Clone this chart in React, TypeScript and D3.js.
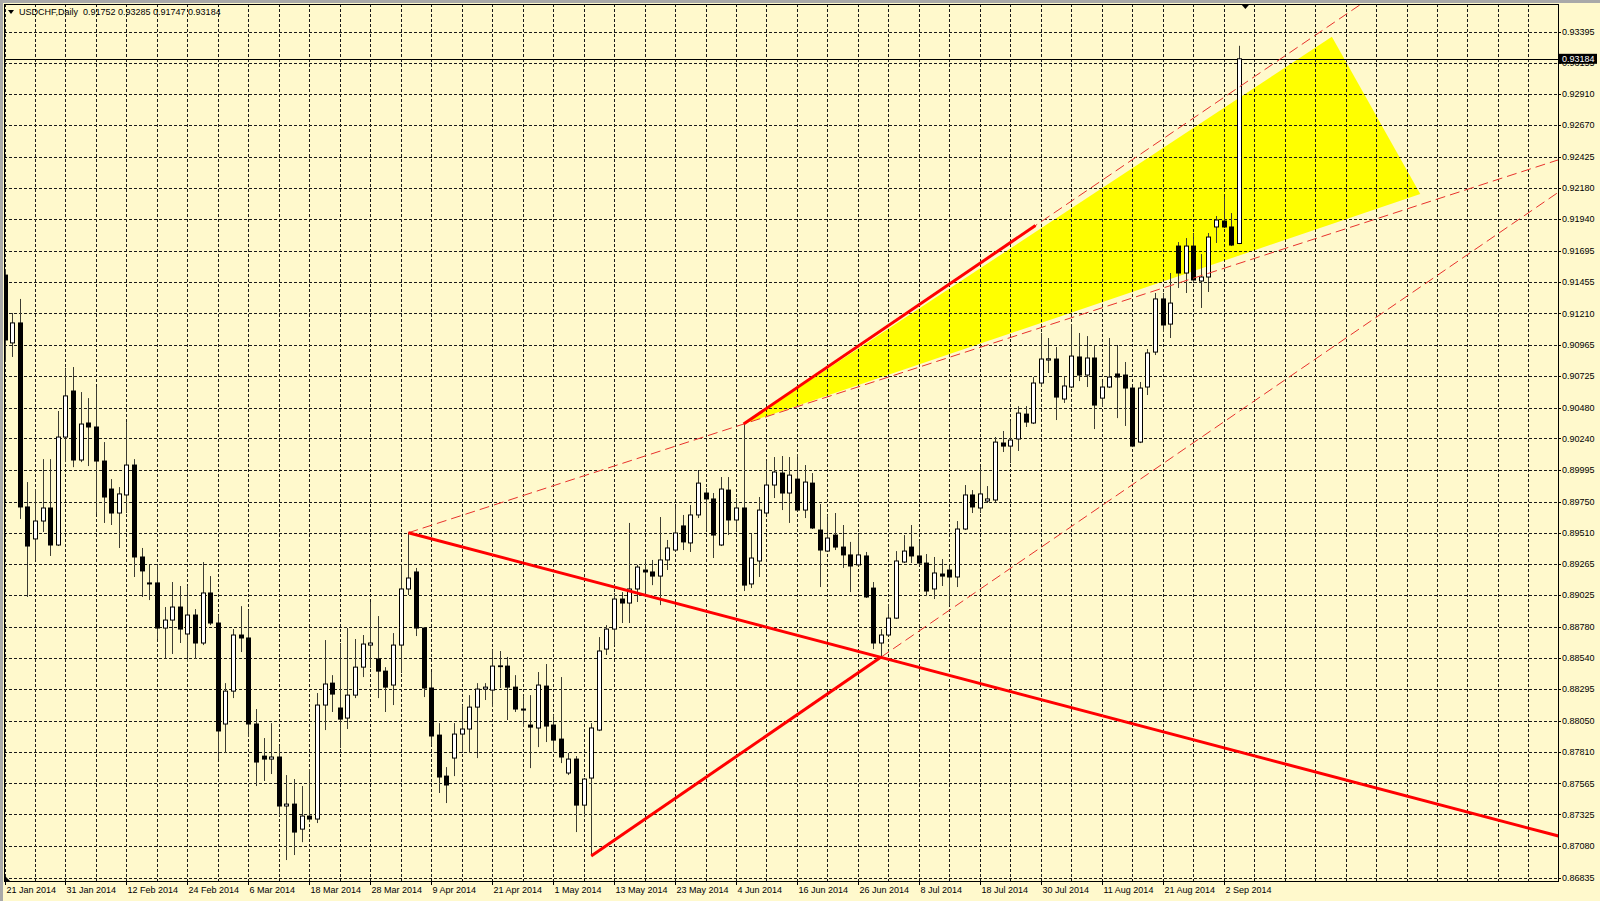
import * as d3 from "d3";

const W = 1600;
const H = 901;
const plot = { left: 4, top: 4, right: 1558, bottom: 881 };

// USDCHF daily bars, 21 Jan 2014 .. 4 Sep 2014 (bar index = trading day)
const opens = [
  0.91507, 0.90981, 0.91136, 0.89709, 0.89461, 0.896, 0.89701, 0.89414, 0.90251, 0.90608, 0.90073, 0.9036, 0.90329, 0.90065, 0.89848, 0.89662, 0.89802, 0.90034, 0.89321, 0.8912,
  0.8912, 0.8877, 0.88832, 0.88933, 0.88724, 0.88871, 0.88654, 0.89042, 0.88809, 0.88026, 0.88281, 0.88716, 0.88693, 0.88026, 0.87777, 0.87754, 0.8777, 0.8739, 0.87405, 0.87211,
  0.87312, 0.87289, 0.88173, 0.88343, 0.8815, 0.88072, 0.8825, 0.88467, 0.88638, 0.8853, 0.88436, 0.88328, 0.88638, 0.89073, 0.89205, 0.8877, 0.88305, 0.8794, 0.87622, 0.87762,
  0.87948, 0.87987, 0.88157, 0.88297, 0.88289, 0.88472, 0.88475, 0.88312, 0.88142, 0.88018, 0.87995, 0.8832, 0.88018, 0.87909, 0.87646, 0.87754, 0.87397, 0.87607, 0.87979, 0.88607,
  0.88762, 0.88995, 0.88964, 0.89073, 0.8922, 0.89205, 0.89173, 0.89298, 0.89375, 0.89562, 0.8943, 0.89647, 0.89817, 0.89771, 0.89414, 0.8984, 0.89608, 0.89701, 0.89112, 0.8929,
  0.89662, 0.89879, 0.89972, 0.89817, 0.89925, 0.89685, 0.89894, 0.8953, 0.89367, 0.89491, 0.89398, 0.89337, 0.8926, 0.89329, 0.8908, 0.88654, 0.88716, 0.88847, 0.89282, 0.89398,
  0.89329, 0.89274, 0.89073, 0.89189, 0.8922, 0.89166, 0.89538, 0.89802, 0.89701, 0.89755, 0.89763, 0.90205, 0.90181, 0.90236, 0.90429, 0.9036, 0.9067, 0.90848, 0.90856, 0.90546,
  0.90639, 0.90872, 0.90732, 0.90864, 0.90553, 0.90639, 0.9074, 0.90732, 0.90631, 0.90212, 0.90639, 0.9091, 0.91322, 0.91127, 0.91732, 0.91523, 0.91732, 0.91461, 0.91492, 0.9188,
  0.91926, 0.9188, 0.91752,
];
const highs = [
  0.91554, 0.91213, 0.91322, 0.89902, 0.89848, 0.9008, 0.9008, 0.90453, 0.90787, 0.90794, 0.906, 0.90553, 0.90639, 0.90212, 0.89925, 0.89863, 0.90367, 0.9008, 0.89391, 0.8926,
  0.89267, 0.88933, 0.89127, 0.89096, 0.89096, 0.88917, 0.89282, 0.89173, 0.88871, 0.88343, 0.88762, 0.8894, 0.88909, 0.88142, 0.87917, 0.88033, 0.87855, 0.8763, 0.87599, 0.87545,
  0.87676, 0.88266, 0.88677, 0.88405, 0.88654, 0.8877, 0.88685, 0.88716, 0.88972, 0.88863, 0.88467, 0.88731, 0.8926, 0.89509, 0.89236, 0.88778, 0.88429, 0.88033, 0.87692, 0.88033,
  0.88173, 0.8825, 0.88343, 0.88343, 0.886, 0.88592, 0.88546, 0.88405, 0.88242, 0.8825, 0.88429, 0.88491, 0.88095, 0.8839, 0.87801, 0.87777, 0.87607, 0.88033, 0.887, 0.88793,
  0.89042, 0.89049, 0.89585, 0.8926, 0.89298, 0.89298, 0.89631, 0.89453, 0.89709, 0.89647, 0.89724, 0.89995, 0.89856, 0.89817, 0.89941, 0.89941, 0.89778, 0.90352, 0.89499, 0.89786,
  0.90065, 0.90096, 0.90104, 0.90096, 0.90119, 0.90034, 0.89972, 0.89732, 0.89647, 0.89662, 0.89569, 0.89438, 0.89507, 0.8936, 0.89127, 0.88762, 0.88956, 0.89367, 0.89491, 0.89569,
  0.89445, 0.89344, 0.89321, 0.89305, 0.89243, 0.896, 0.89879, 0.8984, 0.90018, 0.89871, 0.90251, 0.90298, 0.90375, 0.90491, 0.90491, 0.90716, 0.91058, 0.91019, 0.90949, 0.90716,
  0.91127, 0.91058, 0.91034, 0.90965, 0.90678, 0.91019, 0.90965, 0.90833, 0.90639, 0.90678, 0.90934, 0.91368, 0.91368, 0.91523, 0.91763, 0.91794, 0.91833, 0.9167, 0.91833, 0.91965,
  0.92112, 0.91988, 0.93285,
];
const lows = [
  0.90833, 0.90872, 0.89616, 0.89011, 0.89298, 0.89515, 0.89329, 0.89406, 0.90057, 0.90018, 0.90057, 0.90026, 0.89654, 0.89585, 0.89569, 0.89391, 0.89662, 0.89166, 0.89011, 0.88987,
  0.88685, 0.88538, 0.88569, 0.88654, 0.88507, 0.8853, 0.88638, 0.88793, 0.87754, 0.87801, 0.88227, 0.88584, 0.87925, 0.87545, 0.87584, 0.87638, 0.87312, 0.86971, 0.8701, 0.8711,
  0.87265, 0.87258, 0.87979, 0.88119, 0.87839, 0.87987, 0.88227, 0.8839, 0.8846, 0.88227, 0.88119, 0.88173, 0.88421, 0.89026, 0.88708, 0.88235, 0.87863, 0.87491, 0.87413, 0.87622,
  0.87801, 0.87801, 0.87762, 0.88212, 0.88157, 0.88305, 0.88057, 0.88119, 0.88002, 0.87684, 0.87847, 0.87886, 0.87808, 0.87723, 0.8763, 0.87188, 0.87304, 0.87002, 0.87971, 0.88561,
  0.88638, 0.88809, 0.88809, 0.88972, 0.89011, 0.89103, 0.88948, 0.8922, 0.89367, 0.89375, 0.8936, 0.89623, 0.8953, 0.89313, 0.89406, 0.89491, 0.8953, 0.89057, 0.8908, 0.89166,
  0.89654, 0.89778, 0.89685, 0.89585, 0.89677, 0.89623, 0.89538, 0.89088, 0.8936, 0.89375, 0.89236, 0.89049, 0.89252, 0.89003, 0.88607, 0.88543, 0.88708, 0.8884, 0.89274, 0.89274,
  0.89267, 0.89018, 0.88995, 0.89096, 0.88948, 0.89088, 0.8953, 0.89662, 0.89662, 0.8974, 0.89747, 0.90135, 0.90049, 0.90143, 0.90329, 0.90352, 0.90639, 0.90748, 0.90383, 0.90515,
  0.90631, 0.90685, 0.90639, 0.90313, 0.90491, 0.90631, 0.90398, 0.90337, 0.90173, 0.90204, 0.90577, 0.90887, 0.91066, 0.91019, 0.91407, 0.91368, 0.91445, 0.91252, 0.91376, 0.91756,
  0.91872, 0.91732, 0.91747,
];
const closes = [
  0.91004, 0.91136, 0.89709, 0.89406, 0.896, 0.89701, 0.89414, 0.90251, 0.9057, 0.90073, 0.90352, 0.90329, 0.90065, 0.89786, 0.89662, 0.8981, 0.90034, 0.89321, 0.89213, 0.89112,
  0.8877, 0.88832, 0.88933, 0.88762, 0.88871, 0.88654, 0.89042, 0.88809, 0.87972, 0.88281, 0.88716, 0.88693, 0.88026, 0.87731, 0.87754, 0.8777, 0.8739, 0.87405, 0.87188, 0.87312,
  0.87289, 0.88173, 0.88336, 0.88258, 0.88064, 0.8825, 0.88467, 0.88646, 0.88654, 0.88436, 0.88312, 0.88638, 0.89073, 0.89158, 0.8877, 0.88305, 0.87933, 0.87615, 0.87553, 0.87948,
  0.87987, 0.88157, 0.88297, 0.88312, 0.88475, 0.88477, 0.88312, 0.88142, 0.88134, 0.88002, 0.88328, 0.8801, 0.87901, 0.8777, 0.87754, 0.87397, 0.87599, 0.87995, 0.88592, 0.88762,
  0.88995, 0.88964, 0.89073, 0.89243, 0.89205, 0.89173, 0.89298, 0.89391, 0.89507, 0.89438, 0.89647, 0.89894, 0.89771, 0.89491, 0.89848, 0.89608, 0.89701, 0.89103, 0.89313, 0.89685,
  0.89879, 0.8998, 0.89817, 0.89956, 0.89685, 0.89902, 0.89546, 0.89375, 0.89468, 0.89398, 0.89337, 0.89251, 0.89337, 0.89011, 0.88654, 0.88716, 0.88847, 0.8929, 0.89367, 0.89329,
  0.89274, 0.89057, 0.89197, 0.89173, 0.89166, 0.89538, 0.89802, 0.89709, 0.8981, 0.89771, 0.90212, 0.90181, 0.90228, 0.90437, 0.90367, 0.9067, 0.90856, 0.90858, 0.90561, 0.90647,
  0.90879, 0.90732, 0.90864, 0.90499, 0.90639, 0.90716, 0.90716, 0.90631, 0.90181, 0.90631, 0.90903, 0.91322, 0.9112, 0.9129, 0.91523, 0.91732, 0.91469, 0.91492, 0.91802, 0.91934,
  0.9188, 0.9174, 0.93184,
];

// axis labels
const dateLabels = [
  "21 Jan 2014", "31 Jan 2014", "12 Feb 2014", "24 Feb 2014", "6 Mar 2014", "18 Mar 2014", "28 Mar 2014",
  "9 Apr 2014", "21 Apr 2014", "1 May 2014", "13 May 2014", "23 May 2014", "4 Jun 2014", "16 Jun 2014",
  "26 Jun 2014", "8 Jul 2014", "18 Jul 2014", "30 Jul 2014", "11 Aug 2014", "21 Aug 2014", "2 Sep 2014",
];
const dateLabelStep = 8; // bars between date labels
const gridStep = 4; // bars between vertical grid lines
const priceLabels = [
  "0.93395", "0.93155", "0.92910", "0.92670", "0.92425", "0.92180", "0.91940", "0.91695", "0.91455", "0.91210",
  "0.90965", "0.90725", "0.90480", "0.90240", "0.89995", "0.89750", "0.89510", "0.89265", "0.89025", "0.88780",
  "0.88540", "0.88295", "0.88050", "0.87810", "0.87565", "0.87325", "0.87080", "0.86835",
];
const title = "USDCHF,Daily  0.91752 0.93285 0.91747 0.93184";
const lastPrice = 0.93184;

// drawn objects: [bar index, price]
const ptA: [number, number] = [53, 0.89509]; // March high
const ptB: [number, number] = [97, 0.90352]; // June high
const ptV: [number, number] = [115, 0.88543]; // June low
const ptL: [number, number] = [77, 0.87002]; // May low
const ptC: [number, number] = [135.3, 0.91891];
const triangle: [number, number][] = [ptB, [174.2, 0.93355], [185.8, 0.92136]];

export default function App() {
  const x = d3.scaleLinear().domain([0, 162]).range([4.5, 1238.9]);
  const y = d3.scaleLinear().domain([0.86835, 0.93395]).range([877.6, 31.6]);

  const px = (p: [number, number]): [number, number] => [x(p[0]), y(p[1])];
  const ray = (p1: [number, number], p2: [number, number]): [number, number][] => {
    const [x1, y1] = px(p1);
    const [x2, y2] = px(p2);
    const s = (y2 - y1) / (x2 - x1);
    const xe = 2200;
    return [[x1, y1], [xe, y1 + s * (xe - x1)]];
  };
  const line = d3.line();

  const maxGridBar = Math.floor(x.invert(plot.right));
  const gridBars = d3.range(0, maxGridBar + 1, gridStep);

  const font = "'Liberation Sans', Arial, sans-serif";
  const red = "#ff0000";

  return (
    <svg width={W} height={H} style={{ position: "absolute", left: 0, top: 0 }} fontFamily={font}>
      <defs>
        <clipPath id="plot">
          <rect x={plot.left} y={plot.top} width={plot.right - plot.left} height={plot.bottom - plot.top} />
        </clipPath>
      </defs>
      <rect width={W} height={H} fill="#fff9cc" />
      <rect width={W} height={3} fill="#a9a9a9" />
      <rect width={3} height={H} fill="#a9a9a9" />

      <g clipPath="url(#plot)">
        {/* yellow triangle */}
        <path d={line(triangle.map(px)) + "Z"} fill="#ffff00" />

        {/* grid */}
        {priceLabels.map((p) => (
          <line key={p} x1={plot.left} x2={plot.right} y1={Math.round(y(+p)) + 0.5} y2={Math.round(y(+p)) + 0.5}
            stroke="#1a1a1a" strokeDasharray="3 2" />
        ))}
        {gridBars.map((b) => (
          <line key={b} x1={Math.round(x(b)) + 0.5} x2={Math.round(x(b)) + 0.5} y1={plot.top} y2={plot.bottom}
            stroke="#1a1a1a" strokeDasharray="3 2" />
        ))}

        {/* last price line */}
        <line x1={plot.left} x2={plot.right} y1={Math.round(y(lastPrice)) + 0.5} y2={Math.round(y(lastPrice)) + 0.5} stroke="#000" />

        {/* candles */}
        {opens.map((o, i) => {
          const c = closes[i];
          const cx = Math.round(x(i)) + 0.5;
          const top = y(Math.max(o, c));
          const bot = y(Math.min(o, c));
          const up = c >= o;
          return (
            <g key={i}>
              <line x1={cx} x2={cx} y1={y(highs[i])} y2={y(lows[i])} stroke="#3c3c32" />
              {up ? (
                <rect x={cx - 2} y={top} width={4} height={Math.max(bot - top, 0.8)} fill="#fff" stroke="#000" />
              ) : (
                <rect x={cx - 2.5} y={top - 0.5} width={5} height={Math.max(bot - top, 0.5) + 1} fill="#000" />
              )}
            </g>
          );
        })}

        {/* dashed extensions */}
        <path d={line(ray(ptA, ptB)) ?? ""} stroke="#e8322c" strokeWidth={1} strokeDasharray="10 5" fill="none" />
        <path d={line(ray(ptB, ptC)) ?? ""} stroke="#e8322c" strokeWidth={1} strokeDasharray="10 5" fill="none" />
        <path d={line(ray(ptV, [2 * ptV[0] - ptL[0], 2 * ptV[1] - ptL[1]])) ?? ""} stroke="#e8322c" strokeWidth={1}
          strokeDasharray="10 5" fill="none" />

        {/* solid trend lines */}
        <path d={line(ray(ptA, ptV)) ?? ""} stroke={red} strokeWidth={3} fill="none" />
        <path d={line([ptL, ptV].map(px)) ?? ""} stroke={red} strokeWidth={3} fill="none" />
        <path d={line([ptB, ptC].map(px)) ?? ""} stroke={red} strokeWidth={3} fill="none" />
      </g>

      {/* frame */}
      <rect x={plot.left + 0.5} y={plot.top + 0.5} width={plot.right - plot.left} height={plot.bottom - plot.top}
        fill="none" stroke="#000" />
      <path d={`M${x(162) + 3},${plot.top + 1}h7l-3.5,4z`} fill="#000" />
      <path d={`M${plot.left + 1},${plot.bottom - 5}v5h5z`} fill="#000" />

      {/* title */}
      <path d="M8,10h6l-3,4z" fill="#000" />
      <text x={19} y={15} fontSize={9} fill="#000" style={{ whiteSpace: "pre" }}>{title}</text>

      {/* price axis */}
      {priceLabels.map((p) => (
        <g key={p}>
          <line x1={plot.right} x2={plot.right + 3} y1={Math.round(y(+p)) + 0.5} y2={Math.round(y(+p)) + 0.5} stroke="#000" />
          <text x={plot.right + 4} y={y(+p)} dy="0.35em" fontSize={9} fill="#000">{p}</text>
        </g>
      ))}
      <rect x={plot.right + 1} y={y(lastPrice) - 5} width={38} height={10} fill="#000" />
      <text x={plot.right + 4} y={y(lastPrice)} dy="0.35em" fontSize={9} fill="#fff">{lastPrice.toFixed(5)}</text>

      {/* time axis */}
      {dateLabels.map((d, k) => {
        const bx = Math.round(x(k * dateLabelStep)) + 0.5;
        return (
          <g key={d}>
            <line x1={bx} x2={bx} y1={plot.bottom} y2={plot.bottom + 4} stroke="#000" />
            <text x={bx + 1} y={893} fontSize={9} fill="#000">{d}</text>
          </g>
        );
      })}
    </svg>
  );
}
